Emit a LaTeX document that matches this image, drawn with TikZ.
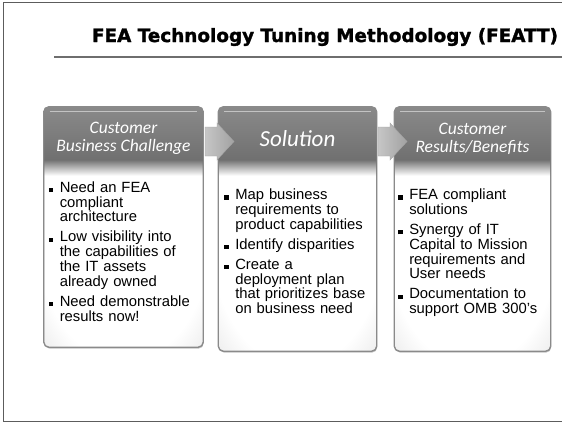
\documentclass[tikz,border=0pt]{standalone}
\usepackage{graphicx}
\usepackage{fontspec}
\setmainfont{Liberation Sans}
\newfontfamily\fontTitolo{DejaVu Sans}[BoldFeatures={FakeBold=1.5}]
\newfontfamily\fontTesta{Carlito}
\usetikzlibrary{positioning, calc, shadows, fadings}
\definecolor{cornice}{HTML}{5C5C5C}
\definecolor{bordo}{HTML}{8A8A8A}
\definecolor{testaChiara}{HTML}{8A8A8A}
\definecolor{testaScura}{HTML}{707070}
\definecolor{fondoBordo}{HTML}{CDCDCD}
\definecolor{frecciaChiara}{HTML}{C6C6C6}
\definecolor{frecciaScura}{HTML}{A2A2A2}
\pgfdeclareradialshading{corpo}{\pgfpoint{0bp}{0bp}}{color(0bp)=(white); color(28bp)=(white); color(50bp)=(fondoBordo); color(75bp)=(fondoBordo!85!black)}
\tikzfading[name=sfuma, top color=transparent!0, bottom color=transparent!100]
\newcommand{\puntino}{%
\setlength{\parskip}{5.2pt}\hangindent=11pt\hangafter=1\noindent\makebox[11pt][l]{\rule{4.2pt}{4.2pt}}}
\newcommand{\voce}{\par\puntino}

\begin{document}
\begin{tikzpicture}[x=1pt, y=-1pt,
    pannello/.style={rectangle, rounded corners=5pt, draw=bordo, line width=0.8pt, shading=corpo, inner sep=0pt, drop shadow={shadow xshift=0.6pt, shadow yshift=-1.6pt, opacity=0.5}},
    titoletto/.style={text=white, align=center, inner sep=0pt, font=\fontTesta\itshape\fontsize{17.5}{18}\selectfont},
    elenco/.style={text width=150pt, align=left, inner sep=0pt, anchor=base west, font=\fontsize{14.8}{14.8}\selectfont},
    freccia/.style={left color=frecciaChiara, right color=frecciaScura, draw=frecciaScura, line width=0.4pt}]
    % Parametri
    \pgfmathsetmacro{\testa}{53}
    \pgfmathsetmacro{\sfumo}{16}
    % Cornice
    \useasboundingbox (0,0) rectangle (562,424);
    \draw[cornice, line width=1pt] (562,2.5) -- (3,2.5) -- (3,421.5) -- (562,421.5);
    % Titolo
    \node[anchor=base, inner sep=0pt] (titolo) at (325,42) {\resizebox{466pt}{!}{\fontTitolo\bfseries\fontsize{18}{18}\selectfont FEA Technology Tuning Methodology (FEATT)}};
    \draw[bordo!80!black, line width=1.5pt] (54,57) -- (562,57);
    % Pannelli
    \node[pannello, minimum width=159pt, minimum height=240pt] (sfida) at (123.5,227) {};
    \node[pannello, minimum width=158pt, minimum height=244pt] (soluzione) at (297.5,229) {};
    \node[pannello, minimum width=156pt, minimum height=244pt] (risultati) at (472.5,229) {};
    % Testate
    \foreach \p in {sfida, soluzione, risultati}{
        \begin{scope}
            \clip[rounded corners=5pt] (\p.north west) rectangle (\p.south east);
            \shade[top color=testaChiara, bottom color=testaScura] (\p.north west) rectangle ($(\p.north east)+(0,\testa)$);
            \fill[testaScura, path fading=sfuma] ($(\p.north west)+(0,\testa)$) rectangle ($(\p.north east)+(0,\testa+\sfumo)$);
            \draw[white, opacity=0.5, line width=1.2pt] ($(\p.north west)+(6,5)$) -- ($(\p.north east)+(-6,5)$);
        \end{scope}
        \draw[bordo, line width=0.8pt, rounded corners=5pt] (\p.north west) rectangle (\p.south east);
    }
    % Frecce
    \coordinate (coda1) at (205,141.5);
    \coordinate (coda2) at (378,141.5);
    \foreach \c in {coda1, coda2}
        \draw[freccia] ($(\c)+(0,-14.5)$) -- ++(12,0) -- ++(0,-4) -- ++(17,18.5) -- ++(-17,18.5) -- ++(0,-4) -- ++(-12,0) -- cycle;
    % Titoli dei pannelli
    \node[titoletto] (testaSfida) at ($(sfida.north)+(0,32)$) {Customer\\Business Challenge};
    \node[titoletto, font=\fontTesta\itshape\fontsize{23}{23}\selectfont] (testaSoluzione) at ($(soluzione.north)+(0,32)$) {Solution};
    \node[titoletto] (testaRisultati) at ($(risultati.north)+(0,32)$) {Customer\\Results/Benefits};
    % Elenchi
    \node[elenco] (elencoSfida) at ($(sfida.north west)+(5,85.6)$) {%
        \puntino Need an FEA\newline compliant\newline architecture
        \voce Low visibility into\newline the capabilities of\newline the IT assets\newline already owned
        \voce Need demonstrable\newline results now!\par};
    \node[elenco] (elencoSoluzione) at ($(soluzione.north west)+(6,93)$) {%
        \puntino Map business\newline requirements to\newline product capabilities
        \voce Identify disparities
        \voce Create a\newline deployment plan\newline that prioritizes base\newline on business need\par};
    \node[elenco] (elencoRisultati) at ($(risultati.north west)+(4,93)$) {%
        \puntino FEA compliant\newline solutions
        \voce Synergy of IT\newline Capital to Mission\newline requirements and\newline User needs
        \voce Documentation to\newline support OMB 300's\par};
\end{tikzpicture}
\end{document}
